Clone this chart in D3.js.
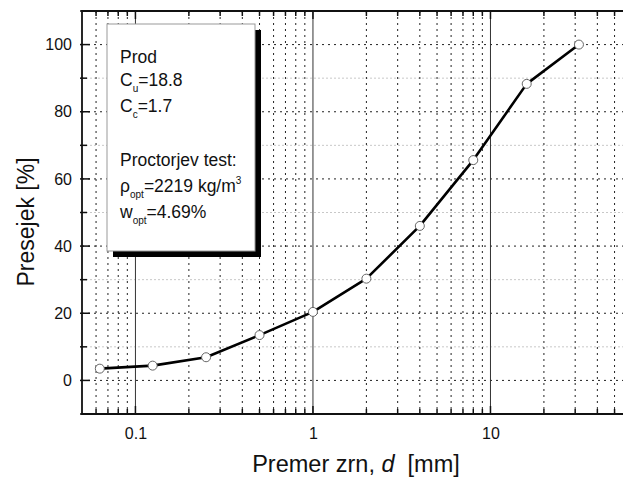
<!DOCTYPE html>
<html>
<head>
<meta charset="utf-8">
<script src="https://cdn.jsdelivr.net/npm/d3@7"></script>
<style>
	body { margin: 0; background: #fff; }
	svg { display: block; font-family: 'Liberation Sans', Arial, sans-serif; }
</style>
</head>
<body>
<div id="chart"></div>
<script>
// Sieve sizes [mm] and percent passing
const sieveSizes = [ 0.063, 0.125, 0.25, 0.5, 1, 2, 4, 8, 16, 31.5 ];
const passing = [ 3.5, 4.4, 6.9, 13.5, 20.4, 30.3, 46.0, 65.6, 88.3, 100 ];

// Tick values
const yMajorTicks = [ 0, 20, 40, 60, 80, 100 ];
const yMinorTicks = [ -10, 10, 30, 50, 70, 90, 110 ];
const xDecades = [ 0.1, 1, 10 ];
const xMinorTicks = [ 0.06, 0.07, 0.08, 0.09, 0.2, 0.3, 0.4, 0.5, 0.6, 0.7, 0.8, 0.9,
	2, 3, 4, 5, 6, 7, 8, 9, 20, 30, 40, 50, 60, 70, 80, 90 ];

const width = 623,
	height = 477;
const plot = { left: 82, right: 668, top: 11, bottom: 414 };

const svg = d3.select( '#chart' )
	.append( 'svg' )
	.attr( 'width', width )
	.attr( 'height', height );

const x = d3.scaleLog().domain( [ 0.05, 100 ] ).range( [ plot.left, plot.right ] );
const y = d3.scaleLinear().domain( [ -10, 110 ] ).range( [ plot.bottom, plot.top ] );

const grid = svg.append( 'g' );

// Horizontal minor grid (light)
grid.selectAll( '.hminor' )
	.data( yMinorTicks )
	.join( 'line' )
	.attr( 'x1', plot.left ).attr( 'x2', plot.right )
	.attr( 'y1', ( d ) => y( d ) ).attr( 'y2', ( d ) => y( d ) )
	.attr( 'stroke', '#c8c8c8' )
	.attr( 'stroke-dasharray', '2,2' );

// Vertical minor grid (dotted)
grid.selectAll( '.vminor' )
	.data( xMinorTicks )
	.join( 'line' )
	.attr( 'x1', ( d ) => x( d ) ).attr( 'x2', ( d ) => x( d ) )
	.attr( 'y1', plot.top ).attr( 'y2', plot.bottom )
	.attr( 'stroke', '#222' )
	.attr( 'stroke-dasharray', '2,4' );

// Horizontal major grid (dotted)
grid.selectAll( '.hmajor' )
	.data( yMajorTicks )
	.join( 'line' )
	.attr( 'x1', plot.left ).attr( 'x2', plot.right )
	.attr( 'y1', ( d ) => y( d ) ).attr( 'y2', ( d ) => y( d ) )
	.attr( 'stroke', '#222' )
	.attr( 'stroke-dasharray', '2,4' );

// Decade lines (solid)
grid.selectAll( '.vmajor' )
	.data( xDecades )
	.join( 'line' )
	.attr( 'x1', ( d ) => x( d ) ).attr( 'x2', ( d ) => x( d ) )
	.attr( 'y1', plot.top ).attr( 'y2', plot.bottom )
	.attr( 'stroke', '#333' )
	.attr( 'stroke-width', 1 );

// Axes with inward ticks
const axisBottom = d3.axisBottom( x )
	.tickValues( xDecades.concat( xMinorTicks ) )
	.tickSize( 0 )
	.tickPadding( 14 )
	.tickFormat( ( d ) => ( xDecades.includes( d ) ? d3.format( '~g' )( d ) : '' ) );

svg.append( 'g' )
	.attr( 'transform', `translate(0,${ plot.bottom })` )
	.call( axisBottom )
	.call( ( g ) => g.select( '.domain' ).remove() )
	.selectAll( 'text' )
	.attr( 'font-size', 16 )
	.attr( 'font-family', 'Liberation Sans, Arial, sans-serif' )
	.attr( 'fill', '#111' );

const axisLeft = d3.axisLeft( y )
	.tickValues( yMajorTicks )
	.tickSize( 0 )
	.tickPadding( 10 );

svg.append( 'g' )
	.attr( 'transform', `translate(${ plot.left },0)` )
	.call( axisLeft )
	.call( ( g ) => g.select( '.domain' ).remove() )
	.selectAll( 'text' )
	.attr( 'font-size', 16 )
	.attr( 'font-family', 'Liberation Sans, Arial, sans-serif' )
	.attr( 'fill', '#111' );

const ticks = svg.append( 'g' ).attr( 'stroke', '#111' ).attr( 'stroke-width', 1.5 );

// X ticks on bottom and top, pointing inward
[ plot.bottom, plot.top ].forEach( ( edge ) => {
	const dir = edge === plot.bottom ? -1 : 1;
	ticks.append( 'g' ).selectAll( 'line' )
		.data( xDecades.concat( xMinorTicks ) )
		.join( 'line' )
		.attr( 'x1', ( d ) => x( d ) ).attr( 'x2', ( d ) => x( d ) )
		.attr( 'y1', edge )
		.attr( 'y2', ( d ) => edge + dir * ( xDecades.includes( d ) ? 8 : 5 ) );
} );

// Y ticks on left, inward
ticks.append( 'g' ).selectAll( 'line' )
	.data( yMajorTicks.concat( yMinorTicks ) )
	.join( 'line' )
	.attr( 'x1', plot.left - 2 )
	.attr( 'x2', ( d ) => plot.left + ( yMajorTicks.includes( d ) ? 8 : 5 ) )
	.attr( 'y1', ( d ) => y( d ) ).attr( 'y2', ( d ) => y( d ) );

// Frame
svg.append( 'path' )
	.attr( 'd', `M${ plot.right },${ plot.top }H${ plot.left }V${ plot.bottom }H${ plot.right }` )
	.attr( 'fill', 'none' )
	.attr( 'stroke', '#111' )
	.attr( 'stroke-width', 1.8 );

// Grading curve
const points = sieveSizes.map( ( d, i ) => ( { size: d, pass: passing[ i ] } ) );

const line = d3.line()
	.x( ( d ) => x( d.size ) )
	.y( ( d ) => y( d.pass ) );

svg.append( 'path' )
	.datum( points )
	.attr( 'fill', 'none' )
	.attr( 'stroke', '#000' )
	.attr( 'stroke-width', 2.6 )
	.attr( 'stroke-linejoin', 'round' )
	.attr( 'd', line );

svg.append( 'g' ).selectAll( 'circle' )
	.data( points )
	.join( 'circle' )
	.attr( 'cx', ( d ) => x( d.size ) )
	.attr( 'cy', ( d ) => y( d.pass ) )
	.attr( 'r', 4.5 )
	.attr( 'fill', '#fff' )
	.attr( 'stroke', '#666' )
	.attr( 'stroke-width', 1 );

// Info box with shadow
const box = { x: 107, y: 24, w: 148, h: 227 };
svg.append( 'rect' )
	.attr( 'x', box.x + 6 ).attr( 'y', box.y + 6 )
	.attr( 'width', box.w ).attr( 'height', box.h )
	.attr( 'fill', '#000' );
svg.append( 'rect' )
	.attr( 'x', box.x ).attr( 'y', box.y )
	.attr( 'width', box.w ).attr( 'height', box.h )
	.attr( 'fill', '#fff' )
	.attr( 'stroke', '#999' )
	.attr( 'stroke-width', 1 );

const info = svg.append( 'g' )
	.attr( 'font-size', 17.5 )
	.attr( 'fill', '#111' );

function addLine( yPos, parts ) {
	const t = info.append( 'text' ).attr( 'x', box.x + 13 ).attr( 'y', yPos );
	parts.forEach( ( p ) => {
		const span = t.append( 'tspan' ).text( p.text );
		if ( p.sub ) {
			span.attr( 'font-size', 10 ).attr( 'dy', 6 );
		}
		if ( p.sup ) {
			span.attr( 'font-size', 10 ).attr( 'dy', -8 );
		}
		if ( p.back ) {
			span.attr( 'dy', p.back );
		}
	} );
}

addLine( 63, [ { text: 'Prod' } ] );
addLine( 86, [ { text: 'C' }, { text: 'u', sub: true }, { text: '=18.8', back: -6 } ] );
addLine( 112, [ { text: 'C' }, { text: 'c', sub: true }, { text: '=1.7', back: -6 } ] );
addLine( 166, [ { text: 'Proctorjev test:' } ] );
addLine( 192, [ { text: 'ρ' }, { text: 'opt', sub: true }, { text: '=2219 kg/m', back: -6 }, { text: '3', sup: true } ] );
addLine( 218, [ { text: 'w' }, { text: 'opt', sub: true }, { text: '=4.69%', back: -6 } ] );

// Axis titles
const xTitle = svg.append( 'text' )
	.attr( 'x', 356 )
	.attr( 'y', 472 )
	.attr( 'text-anchor', 'middle' )
	.attr( 'font-size', 23.5 )
	.attr( 'fill', '#111' );
xTitle.append( 'tspan' ).text( 'Premer zrn, ' );
xTitle.append( 'tspan' ).attr( 'font-style', 'italic' ).text( 'd' );
xTitle.append( 'tspan' ).attr( 'xml:space', 'preserve' ).text( '\u00a0 [mm]' );

svg.append( 'text' )
	.attr( 'transform', 'translate(34,222) rotate(-90)' )
	.attr( 'text-anchor', 'middle' )
	.attr( 'font-size', 23 )
	.attr( 'fill', '#111' )
	.text( 'Presejek [%]' );
</script>
</body>
</html>
